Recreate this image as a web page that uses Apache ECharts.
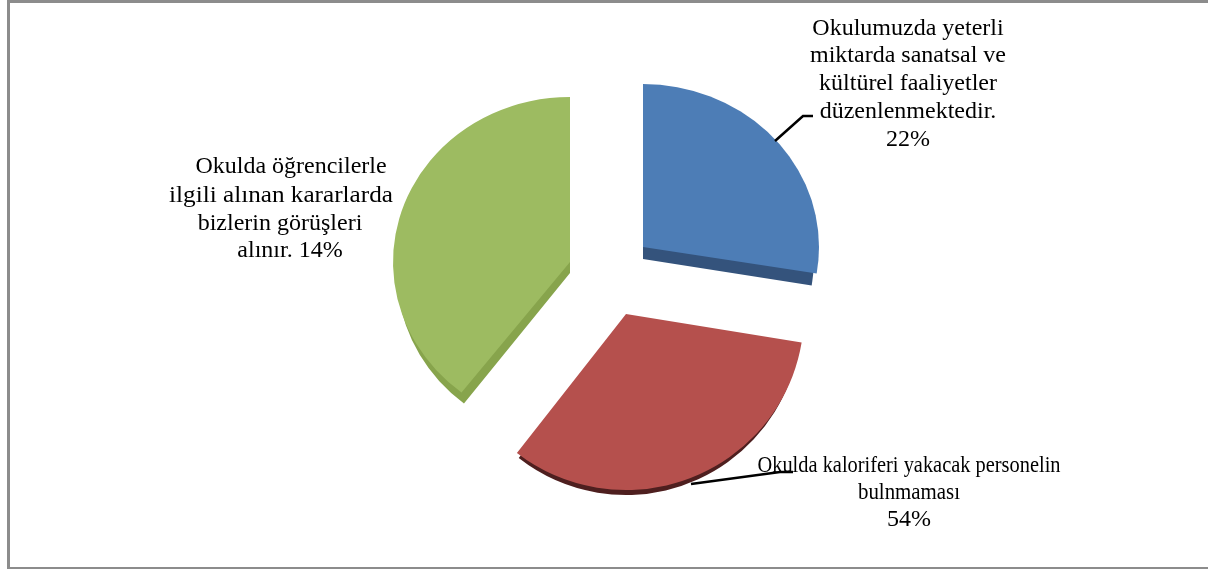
<!DOCTYPE html>
<html>
<head>
<meta charset="utf-8">
<style>
  html, body { margin: 0; padding: 0; background: #fff; }
  #chart { width: 1208px; height: 569px; }
</style>
</head>
<body>
<div id="chart"></div>
<script src="https://cdn.jsdelivr.net/npm/echarts@6/dist/echarts.min.js"></script>
<script>
  // share of the circle each slice really occupies in the picture
  var sliceShares = [27.6, 32.9, 39.5]
  // percentages as printed in the labels (they do not agree with the slice sizes)
  var printedPercents = ['22%', '54%', '14%']
  var labelLines = [
    ['Okulumuzda yeterli', 'miktarda sanatsal ve', 'kültürel faaliyetler', 'düzenlenmektedir.', printedPercents[0]],
    ['Okulda kaloriferi yakacak personelin', 'bulnmaması', printedPercents[1]],
    ['Okulda öğrencilerle', 'ilgili alınan kararlarda', 'bizlerin görüşleri', 'alınır. ' + printedPercents[2]]
  ]

  var faceColors = ['#4D7DB6', '#B5504D', '#9DBB61']
  var sideColors = ['#34537C', '#4E1F1F', '#87A44C']
  // exploded slice geometry: apex, face radii, side offset and radii
  var sliceLayout = [
    {x: 643, y: 247, rx: 176, ry: 163, depth: 12, sideRx: 171, sideRy: 163},
    {x: 626, y: 314, rx: 178, ry: 176, depth: 5, sideRx: 175, sideRy: 176},
    {x: 570, y: 262, rx: 177, ry: 165, depth: 11, sideRx: 173, sideRy: 165}
  ]
  var labelLayout = [
    {xs: [908, 908, 908, 908, 908], ys: [29, 56, 84, 112, 140], sx: [1, 1, 1, 1, 1]},
    {xs: [909, 909, 909], ys: [466, 493, 520], sx: [0.85, 0.87, 1]},
    {xs: [291, 281, 280, 290], ys: [167, 196, 224, 251], sx: [1, 1.05, 1, 1]}
  ]
  var leaderLines = [
    [[775, 141], [803, 116], [813, 116]],
    [[691, 484], [780, 472], [793, 472]]
  ]
  var borderColor = '#8C8C8C'

  function sector (layout, rx, ry, dy, start, end, fill) {
    return {
      type: 'sector',
      x: layout.x,
      y: layout.y + dy,
      scaleX: rx / 100,
      scaleY: ry / 100,
      shape: {cx: 0, cy: 0, r0: 0, r: 100, startAngle: start, endAngle: end, clockwise: true},
      style: {fill: fill}
    }
  }

  function renderSlice (params, api) {
    var i = params.dataIndex
    var before = 0
    for (var k = 0; k < i; k++) before += sliceShares[k]
    var total = sliceShares.reduce(function (a, b) { return a + b }, 0)
    var start = -Math.PI / 2 + before / total * Math.PI * 2
    var end = start + api.value(0) / total * Math.PI * 2
    var l = sliceLayout[i]
    return {
      type: 'group',
      children: [
        sector(l, l.sideRx, l.sideRy, l.depth, start, end, sideColors[i]),
        sector(l, l.rx, l.ry, 0, start, end, faceColors[i])
      ]
    }
  }

  var graphics = [
    {type: 'rect', shape: {x: 7, y: 0, width: 1201, height: 3}, style: {fill: borderColor}, silent: true},
    {type: 'rect', shape: {x: 7, y: 0, width: 3, height: 569}, style: {fill: borderColor}, silent: true},
    {type: 'rect', shape: {x: 7, y: 567, width: 1201, height: 2}, style: {fill: borderColor}, silent: true}
  ]
  leaderLines.forEach(function (pts) {
    graphics.push({
      type: 'polyline',
      z: 5,
      shape: {points: pts},
      style: {stroke: '#000', lineWidth: 2.5, fill: null},
      silent: true
    })
  })
  labelLines.forEach(function (lines, i) {
    lines.forEach(function (line, j) {
      graphics.push({
        type: 'text',
        z: 10,
        x: labelLayout[i].xs[j],
        y: labelLayout[i].ys[j],
        scaleX: labelLayout[i].sx[j],
        style: {
          text: line,
          font: '24px "Liberation Serif"',
          fill: '#000',
          textAlign: 'center',
          textVerticalAlign: 'middle'
        },
        silent: true
      })
    })
  })

  var chart = echarts.init(document.getElementById('chart'), null, {renderer: 'canvas'})
  chart.setOption({
    animation: false,
    backgroundColor: '#fff',
    graphic: graphics,
    series: [{
      type: 'custom',
      coordinateSystem: 'none',
      silent: true,
      renderItem: renderSlice,
      data: sliceShares.map(function (v) { return [v] })
    }]
  })
</script>
</body>
</html>
